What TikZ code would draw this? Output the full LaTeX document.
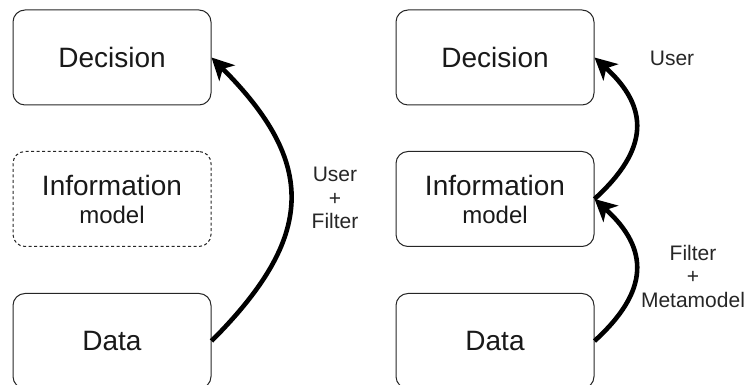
\documentclass[tikz,border=0pt]{standalone}
\usepackage{fontspec}
\setmainfont{Liberation Sans}
\usetikzlibrary{arrows.meta}
\begin{document}
\begin{tikzpicture}[x=1pt,y=1pt,
  box/.style={draw=black!85,line width=1pt,rounded corners=12pt,minimum width=198pt,minimum height=95pt,inner sep=0pt,align=center,font=\fontsize{28}{30}\selectfont,text=black!90},
  dashbox/.style={box,dash pattern=on 3pt off 2.5pt},
  flow/.style={line width=4.6pt,-{Stealth[length=22pt,width=22pt,inset=6pt]}},
  lbl/.style={align=center,font=\fontsize{21}{23.5}\selectfont,text=black!85}]
\useasboundingbox (0,0) rectangle (747,385);
\node[box] (decL) at (112,327.5) {Decision};
\node[dashbox] (infL) at (112,186) {Information\\[-2pt]\fontsize{24}{30}\selectfont model};
\node[box] (datL) at (112,44) {Data};
\node[box] (decR) at (495,327.5) {Decision};
\node[box] (infR) at (495,186) {Information\\[-2pt]\fontsize{24}{30}\selectfont model};
\node[box] (datR) at (495,44) {Data};
\draw[flow] (datL.east) .. controls +(105,105) and +(105,-105) .. (decL.east);
\draw[flow] (datR.east) .. controls +(55,50) and +(55,-50) .. (infR.east);
\draw[flow] (infR.east) .. controls +(55,50) and +(55,-50) .. (decR.east);
\node[lbl] (l1) at (335,187) {User\\+\\Filter};
\node[lbl] (l2) at (672,327) {User};
\node[lbl] (l3) at (693,109) {Filter\\+\\Metamodel};
\end{tikzpicture}
\end{document}
